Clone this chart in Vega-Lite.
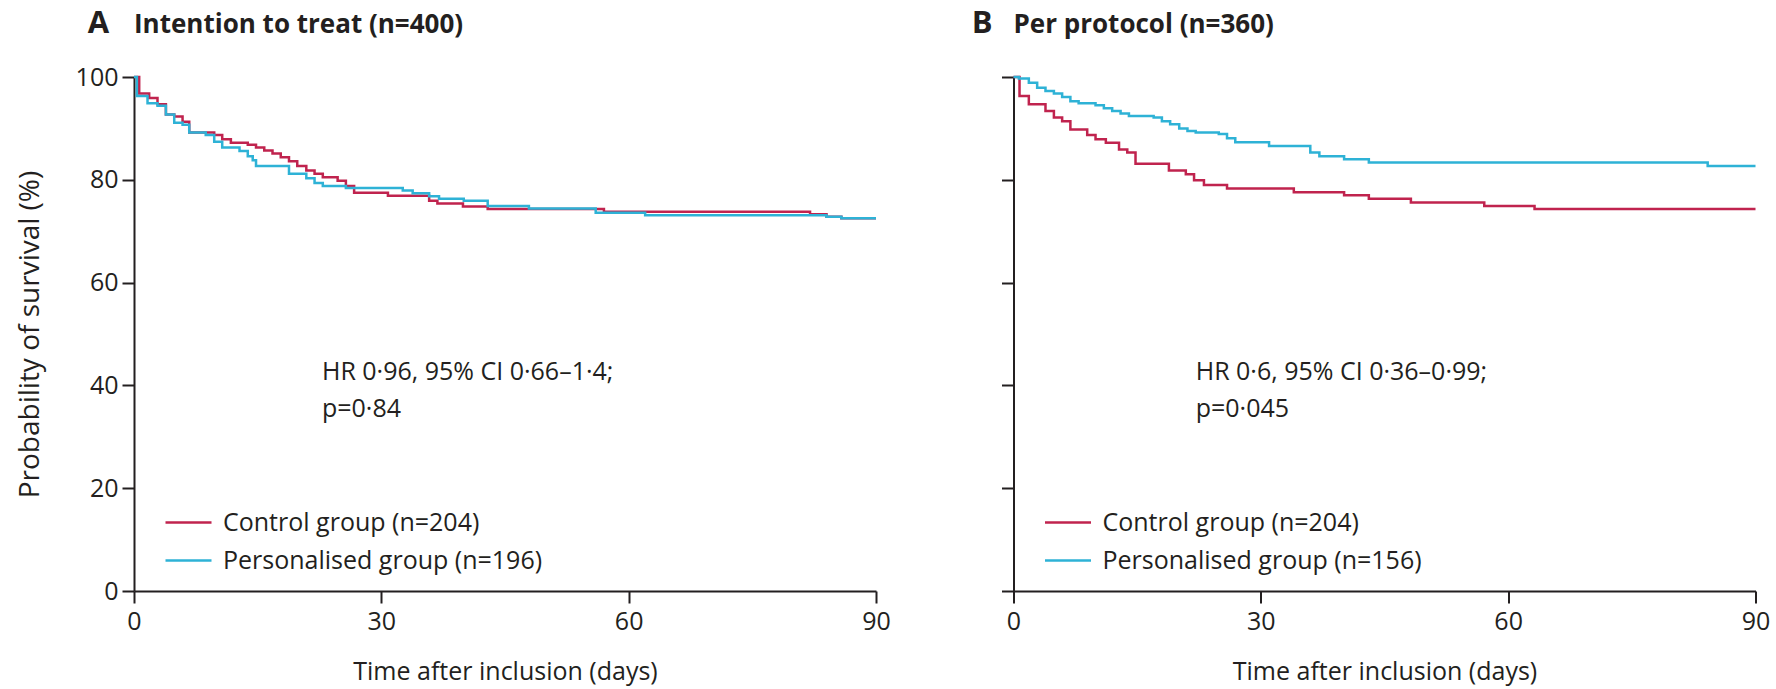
{
  "$schema": "https://vega.github.io/schema/vega-lite/v6.json",
  "background": "white",
  "padding": {"left": 16, "top": 8, "right": 5, "bottom": 4},
  "config": {
    "font": "Open Sans",
    "view": {"stroke": null},
    "axis": {
      "grid": false,
      "domainColor": "#231f20",
      "domainWidth": 2,
      "tickColor": "#231f20",
      "tickWidth": 2,
      "tickSize": 12,
      "labelColor": "#231f20",
      "labelFontSize": 25,
      "titleColor": "#231f20",
      "titleFontSize": 25,
      "titleFontWeight": "normal",
      "labelFlush": false
    },
    "legend": {
      "labelColor": "#231f20",
      "labelFontSize": 25,
      "labelLimit": 0
    }
  },
  "datasets": {
    "km": [
      {"panel": "A", "group": "Control group (n=204)", "day": 0, "surv": 100},
      {"panel": "A", "group": "Control group (n=204)", "day": 0.63, "surv": 96.8},
      {"panel": "A", "group": "Control group (n=204)", "day": 1.84, "surv": 95.9},
      {"panel": "A", "group": "Control group (n=204)", "day": 2.85, "surv": 94.7},
      {"panel": "A", "group": "Control group (n=204)", "day": 3.87, "surv": 92.7},
      {"panel": "A", "group": "Control group (n=204)", "day": 4.88, "surv": 92.3},
      {"panel": "A", "group": "Control group (n=204)", "day": 5.89, "surv": 91.3},
      {"panel": "A", "group": "Control group (n=204)", "day": 6.7, "surv": 89.2},
      {"panel": "A", "group": "Control group (n=204)", "day": 9.73, "surv": 88.7},
      {"panel": "A", "group": "Control group (n=204)", "day": 10.7, "surv": 87.9},
      {"panel": "A", "group": "Control group (n=204)", "day": 11.75, "surv": 87.2},
      {"panel": "A", "group": "Control group (n=204)", "day": 13.8, "surv": 86.8},
      {"panel": "A", "group": "Control group (n=204)", "day": 14.8, "surv": 86.3},
      {"panel": "A", "group": "Control group (n=204)", "day": 15.8, "surv": 85.7},
      {"panel": "A", "group": "Control group (n=204)", "day": 16.8, "surv": 85.1},
      {"panel": "A", "group": "Control group (n=204)", "day": 17.8, "surv": 84.4},
      {"panel": "A", "group": "Control group (n=204)", "day": 18.8, "surv": 83.6},
      {"panel": "A", "group": "Control group (n=204)", "day": 19.8, "surv": 82.7},
      {"panel": "A", "group": "Control group (n=204)", "day": 20.9, "surv": 81.8},
      {"panel": "A", "group": "Control group (n=204)", "day": 21.9, "surv": 81.2},
      {"panel": "A", "group": "Control group (n=204)", "day": 22.9, "surv": 80.5},
      {"panel": "A", "group": "Control group (n=204)", "day": 24.7, "surv": 79.8},
      {"panel": "A", "group": "Control group (n=204)", "day": 25.7, "surv": 78.8},
      {"panel": "A", "group": "Control group (n=204)", "day": 26.7, "surv": 77.5},
      {"panel": "A", "group": "Control group (n=204)", "day": 30.8, "surv": 76.9},
      {"panel": "A", "group": "Control group (n=204)", "day": 35.8, "surv": 75.9},
      {"panel": "A", "group": "Control group (n=204)", "day": 36.8, "surv": 75.4},
      {"panel": "A", "group": "Control group (n=204)", "day": 39.9, "surv": 74.8},
      {"panel": "A", "group": "Control group (n=204)", "day": 42.9, "surv": 74.3},
      {"panel": "A", "group": "Control group (n=204)", "day": 57.0, "surv": 73.8},
      {"panel": "A", "group": "Control group (n=204)", "day": 82.0, "surv": 73.3},
      {"panel": "A", "group": "Control group (n=204)", "day": 84.0, "surv": 72.8},
      {"panel": "A", "group": "Control group (n=204)", "day": 85.8, "surv": 72.5},
      {"panel": "A", "group": "Control group (n=204)", "day": 90, "surv": 72.5},
      {"panel": "A", "group": "Personalised group (n=196)", "day": 0, "surv": 100},
      {"panel": "A", "group": "Personalised group (n=196)", "day": 0.35, "surv": 96.3},
      {"panel": "A", "group": "Personalised group (n=196)", "day": 1.64, "surv": 94.9},
      {"panel": "A", "group": "Personalised group (n=196)", "day": 2.85, "surv": 94.4},
      {"panel": "A", "group": "Personalised group (n=196)", "day": 3.87, "surv": 92.7},
      {"panel": "A", "group": "Personalised group (n=196)", "day": 4.88, "surv": 91.1},
      {"panel": "A", "group": "Personalised group (n=196)", "day": 5.89, "surv": 90.7},
      {"panel": "A", "group": "Personalised group (n=196)", "day": 6.7, "surv": 89.2},
      {"panel": "A", "group": "Personalised group (n=196)", "day": 8.7, "surv": 88.7},
      {"panel": "A", "group": "Personalised group (n=196)", "day": 9.73, "surv": 87.4},
      {"panel": "A", "group": "Personalised group (n=196)", "day": 10.7, "surv": 86.3},
      {"panel": "A", "group": "Personalised group (n=196)", "day": 12.8, "surv": 85.6},
      {"panel": "A", "group": "Personalised group (n=196)", "day": 13.8, "surv": 84.6},
      {"panel": "A", "group": "Personalised group (n=196)", "day": 14.4, "surv": 83.8},
      {"panel": "A", "group": "Personalised group (n=196)", "day": 14.8, "surv": 82.7},
      {"panel": "A", "group": "Personalised group (n=196)", "day": 18.8, "surv": 81.2},
      {"panel": "A", "group": "Personalised group (n=196)", "day": 20.9, "surv": 80.3},
      {"panel": "A", "group": "Personalised group (n=196)", "day": 21.9, "surv": 79.4},
      {"panel": "A", "group": "Personalised group (n=196)", "day": 22.9, "surv": 78.8},
      {"panel": "A", "group": "Personalised group (n=196)", "day": 25.7, "surv": 78.4},
      {"panel": "A", "group": "Personalised group (n=196)", "day": 32.6, "surv": 77.9},
      {"panel": "A", "group": "Personalised group (n=196)", "day": 33.8, "surv": 77.4},
      {"panel": "A", "group": "Personalised group (n=196)", "day": 35.8, "surv": 76.8},
      {"panel": "A", "group": "Personalised group (n=196)", "day": 37.0, "surv": 76.3},
      {"panel": "A", "group": "Personalised group (n=196)", "day": 40.0, "surv": 75.9},
      {"panel": "A", "group": "Personalised group (n=196)", "day": 42.9, "surv": 74.9},
      {"panel": "A", "group": "Personalised group (n=196)", "day": 47.9, "surv": 74.4},
      {"panel": "A", "group": "Personalised group (n=196)", "day": 56.0, "surv": 73.6},
      {"panel": "A", "group": "Personalised group (n=196)", "day": 62.0, "surv": 73.1},
      {"panel": "A", "group": "Personalised group (n=196)", "day": 84.0, "surv": 72.8},
      {"panel": "A", "group": "Personalised group (n=196)", "day": 85.8, "surv": 72.5},
      {"panel": "A", "group": "Personalised group (n=196)", "day": 90, "surv": 72.5},
      {"panel": "B", "group": "Control group (n=204)", "day": 0, "surv": 100},
      {"panel": "B", "group": "Control group (n=204)", "day": 0.73, "surv": 96.3},
      {"panel": "B", "group": "Control group (n=204)", "day": 1.86, "surv": 94.7},
      {"panel": "B", "group": "Control group (n=204)", "day": 3.88, "surv": 93.4},
      {"panel": "B", "group": "Control group (n=204)", "day": 4.9, "surv": 92.1},
      {"panel": "B", "group": "Control group (n=204)", "day": 5.9, "surv": 91.4},
      {"panel": "B", "group": "Control group (n=204)", "day": 6.9, "surv": 89.8},
      {"panel": "B", "group": "Control group (n=204)", "day": 8.94, "surv": 88.7},
      {"panel": "B", "group": "Control group (n=204)", "day": 9.95, "surv": 87.9},
      {"panel": "B", "group": "Control group (n=204)", "day": 11.2, "surv": 87.2},
      {"panel": "B", "group": "Control group (n=204)", "day": 12.8, "surv": 85.9},
      {"panel": "B", "group": "Control group (n=204)", "day": 13.8, "surv": 85.3},
      {"panel": "B", "group": "Control group (n=204)", "day": 14.8, "surv": 83.1},
      {"panel": "B", "group": "Control group (n=204)", "day": 18.85, "surv": 81.8},
      {"panel": "B", "group": "Control group (n=204)", "day": 20.9, "surv": 81.1},
      {"panel": "B", "group": "Control group (n=204)", "day": 21.9, "surv": 79.9},
      {"panel": "B", "group": "Control group (n=204)", "day": 23.1, "surv": 79.0},
      {"panel": "B", "group": "Control group (n=204)", "day": 25.9, "surv": 78.3},
      {"panel": "B", "group": "Control group (n=204)", "day": 34.0, "surv": 77.6},
      {"panel": "B", "group": "Control group (n=204)", "day": 40.1, "surv": 77.0},
      {"panel": "B", "group": "Control group (n=204)", "day": 43.1, "surv": 76.3},
      {"panel": "B", "group": "Control group (n=204)", "day": 48.2, "surv": 75.6},
      {"panel": "B", "group": "Control group (n=204)", "day": 57.1, "surv": 74.9},
      {"panel": "B", "group": "Control group (n=204)", "day": 63.2, "surv": 74.3},
      {"panel": "B", "group": "Control group (n=204)", "day": 90, "surv": 74.3},
      {"panel": "B", "group": "Personalised group (n=156)", "day": 0, "surv": 100},
      {"panel": "B", "group": "Personalised group (n=156)", "day": 0.65, "surv": 99.7},
      {"panel": "B", "group": "Personalised group (n=156)", "day": 1.86, "surv": 98.9},
      {"panel": "B", "group": "Personalised group (n=156)", "day": 2.87, "surv": 97.9},
      {"panel": "B", "group": "Personalised group (n=156)", "day": 3.88, "surv": 97.3},
      {"panel": "B", "group": "Personalised group (n=156)", "day": 4.9, "surv": 96.8},
      {"panel": "B", "group": "Personalised group (n=156)", "day": 5.9, "surv": 96.1},
      {"panel": "B", "group": "Personalised group (n=156)", "day": 6.9, "surv": 95.3},
      {"panel": "B", "group": "Personalised group (n=156)", "day": 7.9, "surv": 94.9},
      {"panel": "B", "group": "Personalised group (n=156)", "day": 9.95, "surv": 94.5},
      {"panel": "B", "group": "Personalised group (n=156)", "day": 10.96, "surv": 93.9},
      {"panel": "B", "group": "Personalised group (n=156)", "day": 11.97, "surv": 93.4},
      {"panel": "B", "group": "Personalised group (n=156)", "day": 12.99, "surv": 92.9},
      {"panel": "B", "group": "Personalised group (n=156)", "day": 14.0, "surv": 92.4},
      {"panel": "B", "group": "Personalised group (n=156)", "day": 17.0, "surv": 92.1},
      {"panel": "B", "group": "Personalised group (n=156)", "day": 18.0, "surv": 91.4},
      {"panel": "B", "group": "Personalised group (n=156)", "day": 19.0, "surv": 90.8},
      {"panel": "B", "group": "Personalised group (n=156)", "day": 20.1, "surv": 90.0},
      {"panel": "B", "group": "Personalised group (n=156)", "day": 21.1, "surv": 89.5},
      {"panel": "B", "group": "Personalised group (n=156)", "day": 22.1, "surv": 89.2},
      {"panel": "B", "group": "Personalised group (n=156)", "day": 24.9, "surv": 88.9},
      {"panel": "B", "group": "Personalised group (n=156)", "day": 25.9, "surv": 88.1},
      {"panel": "B", "group": "Personalised group (n=156)", "day": 26.9, "surv": 87.3},
      {"panel": "B", "group": "Personalised group (n=156)", "day": 31.0, "surv": 86.6},
      {"panel": "B", "group": "Personalised group (n=156)", "day": 36.0, "surv": 85.3},
      {"panel": "B", "group": "Personalised group (n=156)", "day": 37.1, "surv": 84.6},
      {"panel": "B", "group": "Personalised group (n=156)", "day": 40.1, "surv": 84.0},
      {"panel": "B", "group": "Personalised group (n=156)", "day": 43.1, "surv": 83.35},
      {"panel": "B", "group": "Personalised group (n=156)", "day": 84.2, "surv": 82.7},
      {"panel": "B", "group": "Personalised group (n=156)", "day": 90, "surv": 82.7}
    ]
  },
  "spacing": 80.5,
  "resolve": {"scale": {"color": "independent"}, "legend": {"color": "independent"}},
  "hconcat": [
    {
      "width": 742,
      "height": 514,
      "layer": [
        {
          "data": {"name": "km"},
          "transform": [{"filter": "datum.panel === 'A'"}],
          "mark": {"type": "line", "interpolate": "step-after", "strokeWidth": 2.5},
          "encoding": {
            "x": {"field": "day", "type": "quantitative", "scale": {"domain": [0, 90], "nice": false, "zero": false},
                  "axis": {"title": "Time after inclusion (days)", "values": [0, 30, 60, 90], "labelPadding": 6, "titlePadding": 25}},
            "y": {"field": "surv", "type": "quantitative", "scale": {"domain": [0, 100], "nice": false},
                  "axis": {"title": "Probability of survival (%)", "titleFontSize": 28, "values": [0, 20, 40, 60, 80, 100], "labelPadding": 4, "titlePadding": 31}},
            "color": {"field": "group", "type": "nominal",
                      "scale": {"domain": ["Control group (n=204)", "Personalised group (n=196)"], "range": ["#c0234e", "#2eb2d6"]},
                      "legend": {"title": null, "orient": "none", "legendX": 30, "legendY": 421, "symbolType": "stroke", "symbolSize": 2116, "symbolStrokeWidth": 2.5, "labelOffset": 10, "rowPadding": -21}}
          }
        },
        {
          "data": {"values": [{}]},
          "mark": {"type": "text", "fontSize": 31, "fontWeight": "bold", "align": "center", "baseline": "alphabetic", "color": "#231f20"},
          "encoding": {"x": {"datum": -4.3, "type": "quantitative"}, "y": {"datum": 108.5, "type": "quantitative"}, "text": {"value": "A"}}
        },
        {
          "data": {"values": [{}]},
          "mark": {"type": "text", "fontSize": 26, "fontWeight": "bold", "align": "left", "baseline": "alphabetic", "color": "#231f20"},
          "encoding": {"x": {"datum": 0, "type": "quantitative"}, "y": {"datum": 108.5, "type": "quantitative"}, "text": {"value": "Intention to treat (n=400)"}}
        },
        {
          "data": {"values": [{}]},
          "mark": {"type": "text", "fontSize": 25, "align": "left", "baseline": "middle", "color": "#231f20"},
          "encoding": {"x": {"datum": 22.8, "type": "quantitative"}, "y": {"datum": 42.66, "type": "quantitative"}, "text": {"value": "HR 0·96, 95% CI 0·66–1·4;"}}
        },
        {
          "data": {"values": [{}]},
          "mark": {"type": "text", "fontSize": 25, "align": "left", "baseline": "middle", "color": "#231f20"},
          "encoding": {"x": {"datum": 22.8, "type": "quantitative"}, "y": {"datum": 35.4, "type": "quantitative"}, "text": {"value": "p=0·84"}}
        }
      ]
    },
    {
      "width": 742,
      "height": 514,
      "layer": [
        {
          "data": {"name": "km"},
          "transform": [{"filter": "datum.panel === 'B'"}],
          "mark": {"type": "line", "interpolate": "step-after", "strokeWidth": 2.5},
          "encoding": {
            "x": {"field": "day", "type": "quantitative", "scale": {"domain": [0, 90], "nice": false, "zero": false},
                  "axis": {"title": "Time after inclusion (days)", "values": [0, 30, 60, 90], "labelPadding": 6, "titlePadding": 25}},
            "y": {"field": "surv", "type": "quantitative", "scale": {"domain": [0, 100], "nice": false},
                  "axis": {"title": null, "labels": false, "values": [0, 20, 40, 60, 80, 100]}},
            "color": {"field": "group", "type": "nominal",
                      "scale": {"domain": ["Control group (n=204)", "Personalised group (n=156)"], "range": ["#c0234e", "#2eb2d6"]},
                      "legend": {"title": null, "orient": "none", "legendX": 30, "legendY": 421, "symbolType": "stroke", "symbolSize": 2116, "symbolStrokeWidth": 2.5, "labelOffset": 10, "rowPadding": -21}}
          }
        },
        {
          "data": {"values": [{}]},
          "mark": {"type": "text", "fontSize": 31, "fontWeight": "bold", "align": "center", "baseline": "alphabetic", "color": "#231f20"},
          "encoding": {"x": {"datum": -3.8, "type": "quantitative"}, "y": {"datum": 108.5, "type": "quantitative"}, "text": {"value": "B"}}
        },
        {
          "data": {"values": [{}]},
          "mark": {"type": "text", "fontSize": 26, "fontWeight": "bold", "align": "left", "baseline": "alphabetic", "color": "#231f20"},
          "encoding": {"x": {"datum": 0, "type": "quantitative"}, "y": {"datum": 108.5, "type": "quantitative"}, "text": {"value": "Per protocol (n=360)"}}
        },
        {
          "data": {"values": [{}]},
          "mark": {"type": "text", "fontSize": 25, "align": "left", "baseline": "middle", "color": "#231f20"},
          "encoding": {"x": {"datum": 22.1, "type": "quantitative"}, "y": {"datum": 42.66, "type": "quantitative"}, "text": {"value": "HR 0·6, 95% CI 0·36–0·99;"}}
        },
        {
          "data": {"values": [{}]},
          "mark": {"type": "text", "fontSize": 25, "align": "left", "baseline": "middle", "color": "#231f20"},
          "encoding": {"x": {"datum": 22.1, "type": "quantitative"}, "y": {"datum": 35.4, "type": "quantitative"}, "text": {"value": "p=0·045"}}
        }
      ]
    }
  ]
}
